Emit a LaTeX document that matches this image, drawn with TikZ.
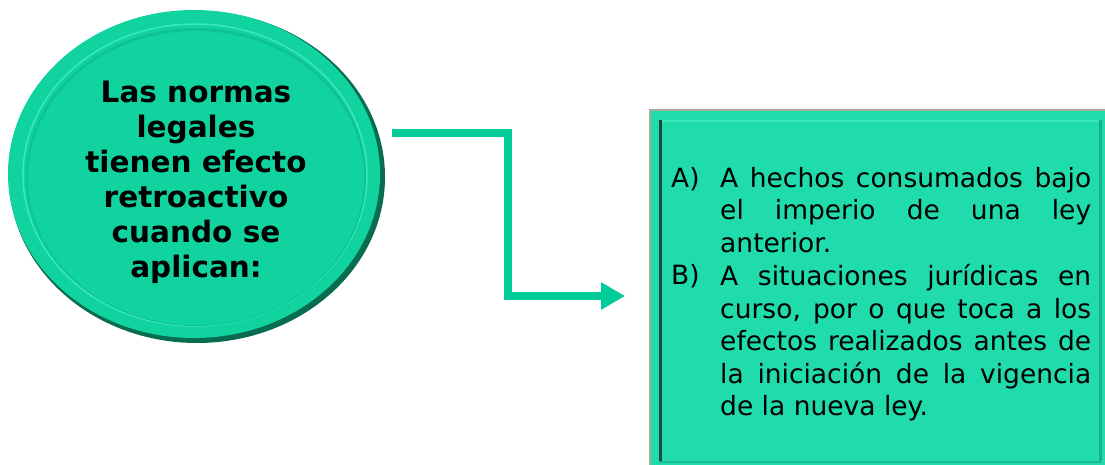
\documentclass[tikz,border=0pt]{standalone}
\usepackage{fontspec}
\setmainfont{DejaVu Sans}
\usetikzlibrary{arrows.meta}
\definecolor{circfill}{HTML}{10D3A0}
\definecolor{circedge}{HTML}{0A9A72}
\definecolor{circlite}{HTML}{3AE8B8}
\definecolor{boxfill}{HTML}{20DBAB}
\definecolor{boxgray}{HTML}{A9AE98}
\definecolor{boxdark}{HTML}{1A4A3C}
\definecolor{arrowc}{HTML}{00CC99}
\tikzset{
  conn/.style={draw=arrowc, line width=7.5pt, -{Triangle[length=24pt,width=26pt]}},
  circtext/.style={align=center, font=\bfseries\fontsize{29.5}{35}\selectfont, text=black},
  boxtext/.style={align=left, font=\fontsize{26.5}{32.4}\selectfont, text=black, inner sep=0pt, anchor=north west}
}
\begin{document}
\begin{tikzpicture}[x=1pt,y=-1pt]
\useasboundingbox (0,0) rectangle (1105,465);
% circle
\fill[circedge!70!black] (197,177) ellipse [x radius=188, y radius=166];
\fill[circfill] (194,174) ellipse [x radius=186, y radius=164];
\draw[circlite, line width=1.5pt] (195,175) ellipse [x radius=172, y radius=151];
\fill[circfill!92!black] (196,177) ellipse [x radius=170, y radius=149];
\fill[circfill] (196,178) ellipse [x radius=168, y radius=147];
\node[circtext] (c) at (196,182) {Las normas\\legales\\tienen efecto\\retroactivo\\cuando se\\aplican:};
% box
\fill[boxgray] (649,109) rectangle (1105,465);
\fill[boxfill] (651,111) rectangle (1105,465);
\fill[boxdark] (659,120) rectangle (662,463);
\fill[circlite] (662,120) rectangle (1101,122);
\fill[boxfill!80!black] (1099,120) rectangle (1102,463);
\fill[boxfill!85!black] (659,461) rectangle (1102,463);
\node (b) at (877,287) [minimum width=442pt, minimum height=343pt, inner sep=0pt] {};
\node[boxtext] (ta) at (671,167) {A)};
\node[boxtext, text width=371pt, align=justify] (tx) at (720,167) {A hechos consumados bajo\linebreak el imperio de una ley\linebreak anterior.};
\node[boxtext] (tb) at (671,264.5) {B)};
\node[boxtext, text width=371pt, align=justify] (ty) at (720,264.5) {A situaciones jurídicas en\linebreak curso, por o que toca a los\linebreak efectos realizados antes de\linebreak la iniciación de la vigencia\linebreak de la nueva ley.};
% connector
\coordinate (s) at (392,133);
\coordinate (e) at (625,296);
\draw[conn] (s) -- (508,133) -- (508,296) -- (e);
\end{tikzpicture}
\end{document}
